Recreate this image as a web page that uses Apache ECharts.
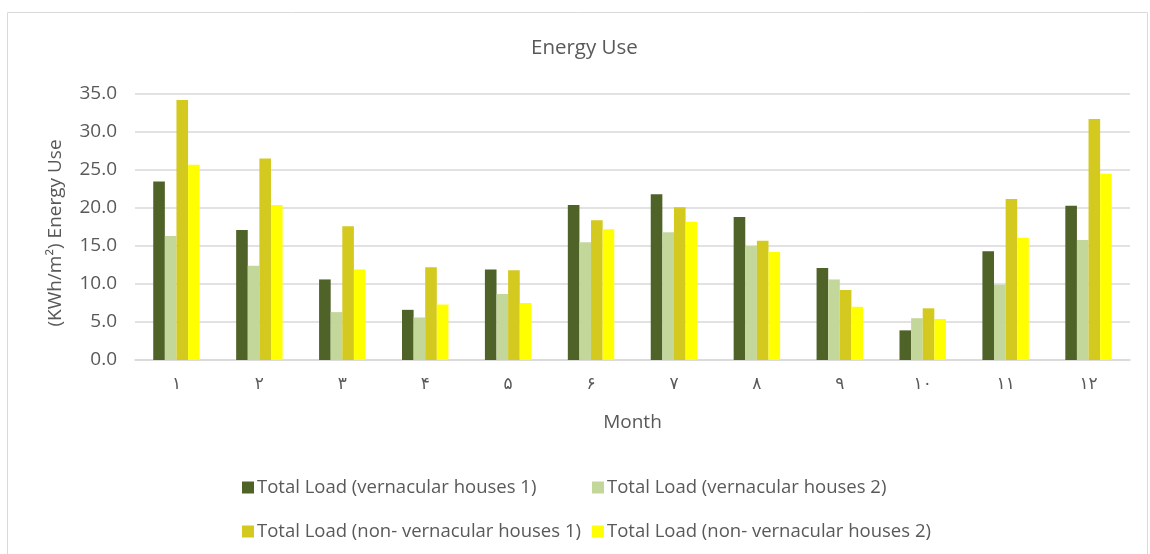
<!DOCTYPE html>
<html><head><meta charset="utf-8">
<script src="https://cdn.jsdelivr.net/npm/echarts@6/dist/echarts.min.js"></script>
<style>html,body{margin:0;padding:0;background:#fff}#c{width:1150px;height:554px}</style>
</head><body><div id="c"></div>
<script>
const months = ['۱','۲','۳','۴','۵','۶','۷','۸','۹','۱۰','۱۱','۱۲'];
const seriesNames = ['Total Load (vernacular houses 1)','Total Load (vernacular houses 2)','Total Load (non- vernacular houses 1)','Total Load (non- vernacular houses 2)'];
const vern1 = [23.5,17.1,10.6,6.6,11.9,20.4,21.8,18.8,12.1,3.9,14.3,20.3];
const vern2 = [16.3,12.4,6.3,5.6,8.7,15.5,16.8,15.0,10.6,5.5,9.9,15.8];
const nonVern1 = [34.2,26.5,17.6,12.2,11.8,18.4,20.1,15.7,9.2,6.8,21.2,31.7];
const nonVern2 = [25.7,20.4,11.9,7.3,7.5,17.2,18.2,14.2,7.0,5.4,16.1,24.5];
const yTicks = [0,5,10,15,20,25,30,35];

const colors = ['#4f6228','#c4d79b','#d4c91f','#ffff00'];
const font = '"Open Sans", Lato, "DejaVu Sans", sans-serif';
const txt = '#595959';
const chart = echarts.init(document.getElementById('c'));
const data = [vern1, vern2, nonVern1, nonVern2];
const legendPos = [[237,473],[587,473],[237,517],[587,517]];
chart.setOption({
  animation:false,
  color: colors,
  title:{text:'Energy Use',left:526,top:33,textStyle:{color:txt,fontSize:20.5,fontWeight:'normal',fontFamily:font}},
  graphic:[{type:'rect',shape:{x:7.5,y:12.5,width:1140,height:560},style:{fill:'none',stroke:'#d9d9d9',lineWidth:1}}],
  legend: seriesNames.map((n,i)=>({data:[n],left:legendPos[i][0],top:legendPos[i][1],itemWidth:12,itemHeight:12,icon:'rect',itemGap:4,
    textStyle:{color:txt,fontSize:18.5,fontFamily:font,padding:[0,0,0,-2]}})),
  grid:{left:135,right:20,top:94,bottom:194},
  xAxis:{type:'category',data:months,axisTick:{show:false},
    axisLine:{lineStyle:{color:'#d9d9d9',width:1.5}},
    axisLabel:{color:txt,fontSize:17,margin:16,fontFamily:'"DejaVu Sans", sans-serif'},
    name:'Month',nameLocation:'middle',nameGap:53,nameTextStyle:{color:txt,fontSize:19,fontFamily:font}},
  yAxis:{type:'value',min:yTicks[0],max:yTicks[yTicks.length-1],interval:5,
    axisLabel:{color:txt,fontSize:19,margin:18,fontFamily:font,formatter:v=>v.toFixed(1)},
    splitLine:{lineStyle:{color:'#d9d9d9',width:1.5}},axisLine:{show:false},axisTick:{show:false},
    name:'(KWh/m²) Energy Use',nameLocation:'middle',nameGap:70,nameRotate:90,
    nameTextStyle:{color:txt,fontSize:19,fontFamily:font,padding:[0,12,0,0]}},
  series: seriesNames.map((n,i)=>({name:n,type:'bar',data:data[i],barGap:'0%',barCategoryGap:'44%',
    itemStyle:{color:colors[i]}}))
});
</script></body></html>
